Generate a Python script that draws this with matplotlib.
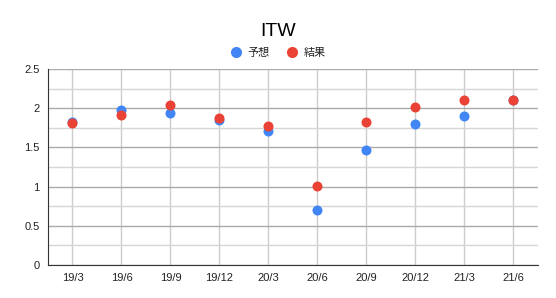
import matplotlib
matplotlib.use("Agg")
import matplotlib.pyplot as plt
from matplotlib.ticker import MultipleLocator
from matplotlib.lines import Line2D

plt.rcParams['font.family'] = ['Liberation Sans', 'Noto Sans CJK JP', 'DejaVu Sans']

quarters = ['19/3', '19/6', '19/9', '19/12', '20/3', '20/6', '20/9', '20/12', '21/3', '21/6']
forecast = [1.82, 1.98, 1.94, 1.85, 1.71, 0.70, 1.47, 1.80, 1.90, 2.10]
actual = [1.81, 1.91, 2.04, 1.88, 1.77, 1.01, 1.83, 2.02, 2.11, 2.10]

BLUE = '#4285F4'
RED = '#EA4335'

fig = plt.figure(figsize=(5.56, 2.98), dpi=100)
ax = fig.add_axes([0.0863, 0.1107, 0.8813, 0.6578])

x = range(len(quarters))
ax.scatter(x, forecast, s=52, color=BLUE, zorder=3, linewidths=0)
ax.scatter(x, actual, s=52, color=RED, zorder=4, linewidths=0)

ax.set_xlim(-0.5, len(quarters) - 0.5)
ax.set_ylim(0, 2.5)
ax.set_xticks(list(x))
ax.set_xticklabels(quarters, fontsize=8)
ax.yaxis.set_minor_locator(MultipleLocator(0.25))
ax.set_yticks([0, 0.5, 1, 1.5, 2, 2.5])
ax.set_yticklabels(['0', '0.5', '1', '1.5', '2', '2.5'], fontsize=8)
ax.tick_params(axis='both', which='both', length=0, pad=6, colors='#222222')

ax.grid(axis='y', which='major', color='#aaaaaa', linewidth=1)
ax.grid(axis='y', which='minor', color='#d6d6d6', linewidth=1)
ax.grid(axis='x', which='major', color='#cccccc', linewidth=1)
ax.set_axisbelow(True)

for side in ['top', 'right']:
    ax.spines[side].set_visible(False)
ax.spines['left'].set_color('#333333')
ax.spines['bottom'].set_color('#333333')

fig.text(0.5, 0.893, 'ITW', ha='center', va='center', fontsize=14, color='#000000')

handles = [
    Line2D([], [], marker='o', linestyle='', markersize=8, markerfacecolor=BLUE, markeredgewidth=0, label='予想'),
    Line2D([], [], marker='o', linestyle='', markersize=8, markerfacecolor=RED, markeredgewidth=0, label='結果'),
]
fig.legend(handles=handles, loc='center', bbox_to_anchor=(0.5, 0.822), ncol=2, frameon=False,
           fontsize=8, labelcolor='#222222', handletextpad=0.5, columnspacing=1.6, handlelength=1.0)

fig.savefig('out.png', dpi=100)
